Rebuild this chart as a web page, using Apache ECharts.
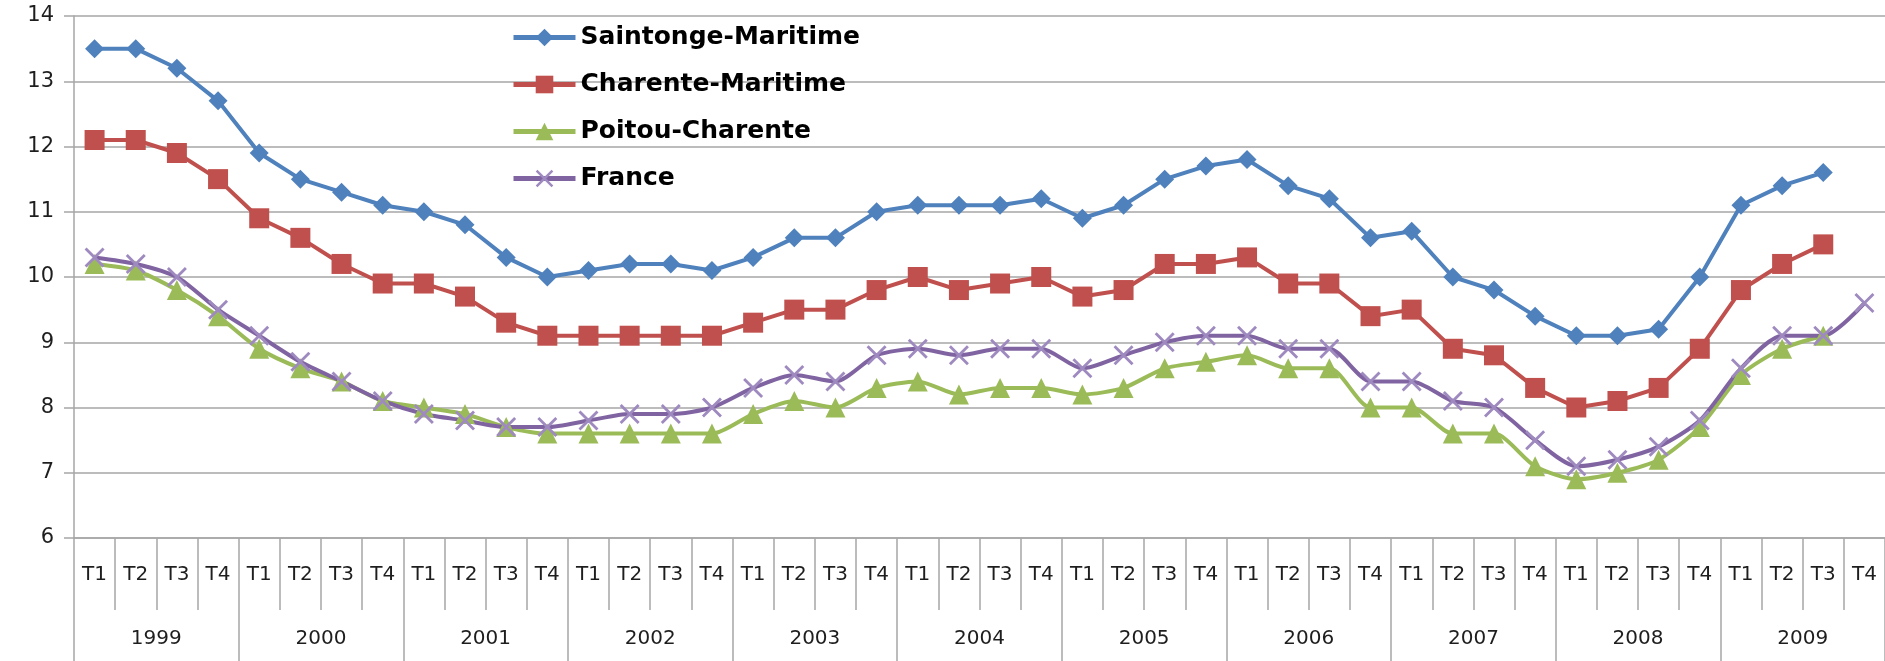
<!DOCTYPE html>
<html>
<head>
<meta charset="utf-8">
<script src="https://cdn.jsdelivr.net/npm/echarts@6/dist/echarts.min.js"></script>
<style>
  html, body { margin: 0; padding: 0; background: #fff; }
</style>
</head>
<body>
<div id="chart" style="width:1885px;height:661px;"></div>
<script>
// trimestres et années
const years = ['1999', '2000', '2001', '2002', '2003', '2004', '2005', '2006', '2007', '2008', '2009'];
const quarters = ['T1', 'T2', 'T3', 'T4'];
const categories = [];
years.forEach(y => quarters.forEach(q => categories.push(q + ' ' + y)));

// taux de chômage (%)
const saintonge = [13.5, 13.5, 13.2, 12.7, 11.9, 11.5, 11.3, 11.1, 11.0, 10.8, 10.3, 10.0,
  10.1, 10.2, 10.2, 10.1, 10.3, 10.6, 10.6, 11.0, 11.1, 11.1, 11.1, 11.2,
  10.9, 11.1, 11.5, 11.7, 11.8, 11.4, 11.2, 10.6, 10.7, 10.0, 9.8, 9.4,
  9.1, 9.1, 9.2, 10.0, 11.1, 11.4, 11.6, null];
const charente = [12.1, 12.1, 11.9, 11.5, 10.9, 10.6, 10.2, 9.9, 9.9, 9.7, 9.3, 9.1,
  9.1, 9.1, 9.1, 9.1, 9.3, 9.5, 9.5, 9.8, 10.0, 9.8, 9.9, 10.0,
  9.7, 9.8, 10.2, 10.2, 10.3, 9.9, 9.9, 9.4, 9.5, 8.9, 8.8, 8.3,
  8.0, 8.1, 8.3, 8.9, 9.8, 10.2, 10.5, null];
const poitou = [10.2, 10.1, 9.8, 9.4, 8.9, 8.6, 8.4, 8.1, 8.0, 7.9, 7.7, 7.6,
  7.6, 7.6, 7.6, 7.6, 7.9, 8.1, 8.0, 8.3, 8.4, 8.2, 8.3, 8.3,
  8.2, 8.3, 8.6, 8.7, 8.8, 8.6, 8.6, 8.0, 8.0, 7.6, 7.6, 7.1,
  6.9, 7.0, 7.2, 7.7, 8.5, 8.9, 9.1, null];
const france = [10.3, 10.2, 10.0, 9.5, 9.1, 8.7, 8.4, 8.1, 7.9, 7.8, 7.7, 7.7,
  7.8, 7.9, 7.9, 8.0, 8.3, 8.5, 8.4, 8.8, 8.9, 8.8, 8.9, 8.9,
  8.6, 8.8, 9.0, 9.1, 9.1, 8.9, 8.9, 8.4, 8.4, 8.1, 8.0, 7.5,
  7.1, 7.2, 7.4, 7.8, 8.6, 9.1, 9.1, 9.6];

const crossPath = 'path://M0,1L1,0L10,9L9,10Z M9,0L10,1L1,10L0,9Z';
const textColor = '#1e1e1e';
const gridColor = '#a6a6a6';

const chart = echarts.init(document.getElementById('chart'));
chart.setOption({
  animation: false,
  grid: { left: 74, right: 0, top: 16, bottom: 123 },
  legend: {
    orient: 'vertical',
    left: 506,
    top: 20,
    itemWidth: 62,
    itemHeight: 22,
    itemGap: 22,
    lineStyle: { width: 5 },
    textStyle: { fontFamily: 'DejaVu Sans', fontWeight: 'bold', fontSize: 25, lineHeight: 22, color: '#000' }
  },
  xAxis: [
    {
      type: 'category',
      data: categories,
      boundaryGap: true,
      axisLine: { show: true, lineStyle: { color: gridColor, width: 1.5 } },
      axisTick: { show: true, interval: 0, length: 72, lineStyle: { color: gridColor, width: 1.5 } },
      axisLabel: {
        interval: 0, margin: 27, color: textColor,
        fontFamily: 'DejaVu Sans', fontSize: 20,
        formatter: v => v.split(' ')[0]
      }
    },
    {
      type: 'category',
      position: 'bottom',
      data: years,
      boundaryGap: true,
      axisLine: { show: false },
      axisTick: { show: true, interval: 0, length: 124, lineStyle: { color: gridColor, width: 1.5 } },
      axisLabel: { interval: 0, margin: 91, color: textColor, fontFamily: 'DejaVu Sans', fontSize: 20 }
    }
  ],
  yAxis: {
    type: 'value',
    min: 6,
    max: 14,
    interval: 1,
    axisLine: { show: true, lineStyle: { color: gridColor, width: 1.5 } },
    axisTick: { show: true, length: 10, lineStyle: { color: gridColor, width: 1.5 } },
    axisLabel: { margin: 20, color: textColor, fontFamily: 'DejaVu Sans', fontSize: 21 },
    splitLine: { lineStyle: { color: gridColor, width: 1.5 } }
  },
  series: [
    {
      name: 'Saintonge-Maritime', type: 'line', data: saintonge,
      symbol: 'diamond', symbolSize: 19,
      itemStyle: { color: '#4f81bd' }, lineStyle: { width: 4, color: '#4f81bd' }
    },
    {
      name: 'Charente-Maritime', type: 'line', data: charente,
      symbol: 'rect', symbolSize: 20,
      itemStyle: { color: '#c0504d' }, lineStyle: { width: 4, color: '#c0504d' }
    },
    {
      name: 'Poitou-Charente', type: 'line', data: poitou,
      symbol: 'triangle', symbolSize: 20, smooth: 0.25,
      itemStyle: { color: '#9bbb59' }, lineStyle: { width: 4, color: '#9bbb59' }
    },
    {
      name: 'France', type: 'line', data: france,
      symbol: crossPath, symbolSize: 20, smooth: 0.25,
      itemStyle: { color: '#9f8ac0' }, lineStyle: { width: 4, color: '#8064a2' }
    }
  ]
});
</script>
</body>
</html>
